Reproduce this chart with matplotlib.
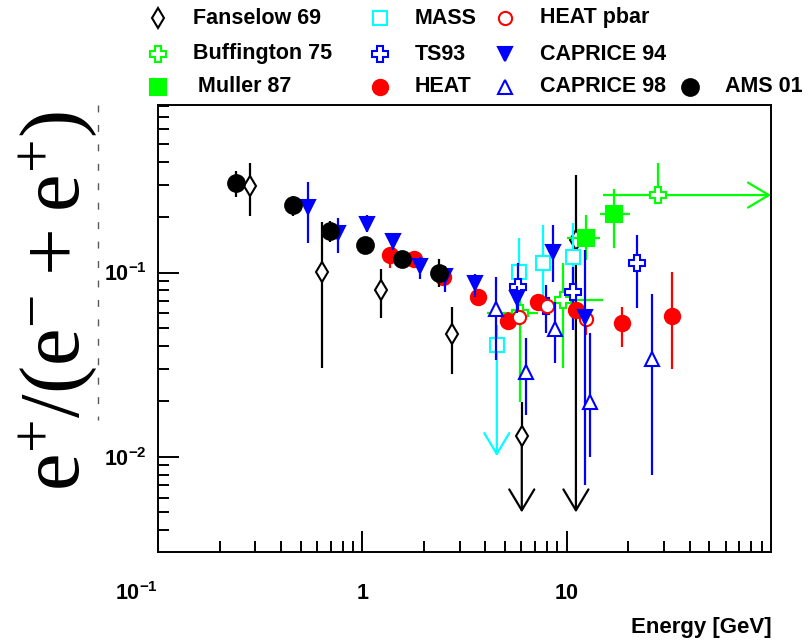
import numpy as np
import matplotlib
matplotlib.use("Agg")
import matplotlib.pyplot as plt
from matplotlib.lines import Line2D

plt.rcParams["font.family"] = ["Liberation Sans", "DejaVu Sans"]
plt.rcParams["mathtext.fontset"] = "custom"
plt.rcParams["mathtext.rm"] = "Liberation Serif"
plt.rcParams["mathtext.bf"] = "Liberation Sans:bold"

# ---------------------------------------------------------------------------
# data: energy [GeV], ratio, lower / upper error ends
# ---------------------------------------------------------------------------
fan_E = [0.282, 0.633, 1.23, 2.74, 6.03, 11.1]
fan_y = [0.295, 0.101, 0.0804, 0.0464, 0.0130, 0.151]
fan_lo = [0.202, 0.0303, 0.0565, 0.0282, 0.005, 0.005]
fan_hi = [0.391, 0.188, 0.105, 0.0647, 0.0199, 0.337]
fan_limit = [False, False, False, False, True, True]

buf_E = [5.92, 9.64, 28.1]
buf_y = [0.0605, 0.071, 0.263]
buf_lo = [0.0199, 0.0303, 0.141]
buf_hi = [0.101, 0.112, 0.391]
buf_Elo = [4.06, 8.78, 15.1]
buf_Ehi = [7.27, 15.1, 100.0]
buf_limit = [False, False, True]

mul_E = [12.4, 17.1]
mul_y = [0.153, 0.208]
mul_lo = [0.117, 0.135]
mul_hi = [0.205, 0.283]
mul_Elo = [10.0, 14.5]
mul_Ehi = [14.5, 20.4]

mass_E = [4.55, 5.87, 7.69, 10.8]
mass_y = [0.0404, 0.101, 0.112, 0.122]
mass_lo = [0.0101, 0.058, 0.07, 0.08]
mass_hi = [0.052, 0.153, 0.181, 0.185]
mass_limit = [True, False, False, False]

ts_E = [5.77, 7.93, 10.8, 22.2]
ts_y = [0.0838, 0.0658, 0.0787, 0.112]
ts_lo = [0.0531, 0.0472, 0.0488, 0.064]
ts_hi = [0.112, 0.0855, 0.107, 0.160]

heat_E = [1.37, 1.78, 2.49, 3.70, 5.19, 7.27, 11.1, 18.6, 32.7]
heat_y = [0.1245, 0.118, 0.0949, 0.0734, 0.0548, 0.0695, 0.0626, 0.0531, 0.0581]
heat_lo = [0.106, 0.108, 0.087, 0.068, 0.0487, 0.064, 0.056, 0.0396, 0.0299]
heat_hi = [0.135, 0.128, 0.104, 0.079, 0.061, 0.075, 0.069, 0.0653, 0.101]

pbar_E = [5.87, 8.05, 12.4]
pbar_y = [0.0576, 0.0658, 0.0557]
pbar_lo = [0.052, 0.060, 0.046]
pbar_hi = [0.063, 0.072, 0.062]

c94_E = [0.544, 0.763, 1.05, 1.41, 1.92, 2.54, 3.56, 5.70, 8.61, 12.3]
c94_y = [0.2275, 0.1645, 0.183, 0.149, 0.109, 0.096, 0.0874, 0.0725, 0.130, 0.0576]
c94_lo = [0.144, 0.127, 0.166, 0.132, 0.0919, 0.0786, 0.074, 0.060, 0.0892, 0.00705]
c94_hi = [0.308, 0.197, 0.205, 0.164, 0.122, 0.108, 0.098, 0.085, 0.181, 0.132]

c98_E = [4.49, 6.33, 8.78, 13.0, 26.1]
c98_y = [0.0632, 0.029, 0.0494, 0.0199, 0.0339]
c98_lo = [0.0336, 0.0169, 0.0323, 0.01005, 0.00798]
c98_hi = [0.0949, 0.0439, 0.0695, 0.047, 0.0764]

ams_E = [0.241, 0.458, 0.695, 1.03, 1.56, 2.37]
ams_y = [0.305, 0.232, 0.168, 0.141, 0.118, 0.0994]
ams_lo = [0.258, 0.202, 0.147, 0.128, 0.106, 0.0834]
ams_hi = [0.356, 0.260, 0.190, 0.156, 0.129, 0.118]

x_ticks = [0.1, 1, 10]
x_ticklabels = [r"$\mathbf{10^{-1}}$", r"$\mathbf{1}$", r"$\mathbf{10}$"]
y_ticks = [0.01, 0.1]
y_ticklabels = [r"$\mathbf{10^{-2}}$", r"$\mathbf{10^{-1}}$"]

GREEN, BLUE, RED, CYAN = "#00ff00", "#0000ff", "#ff0000", "#00ffff"

# (label, color, marker, filled, markersize)
styles = {
    "fan": ("Fanselow 69", "black", "d", False, 10),
    "buf": ("Buffington 75", GREEN, "P", False, 11),
    "mul": ("Muller 87", GREEN, "s", True, 11),
    "mass": ("MASS", CYAN, "s", False, 9.5),
    "ts": ("TS93", BLUE, "P", False, 11),
    "heat": ("HEAT", RED, "o", True, 11),
    "pbar": ("HEAT pbar", RED, "o", False, 9.5),
    "c94": ("CAPRICE 94", BLUE, "v", True, 10),
    "c98": ("CAPRICE 98", BLUE, "^", False, 10),
    "ams": ("AMS 01", "black", "o", True, 12),
}


def marker_kw(key):
    _, col, mk, filled, ms = styles[key]
    return dict(marker=mk, markersize=ms, markeredgecolor=col,
                markerfacecolor=col if filled else "white",
                markeredgewidth=1.5, color=col)


def draw_series(ax, key, E, y, lo, hi, z, Elo=None, Ehi=None, limit=None):
    E, y, lo, hi = map(np.asarray, (E, y, lo, hi))
    col = styles[key][1]
    n = len(E)
    limit = np.zeros(n, bool) if limit is None else np.asarray(limit)
    yerr = np.array([np.where(limit, 0.0, y - lo), hi - y])
    xerr = None
    if Elo is not None:
        Elo, Ehi = np.asarray(Elo), np.asarray(Ehi)
        xerr = np.array([E - Elo, np.where(limit, 0.0, Ehi - E)])
    ax.errorbar(E, y, yerr=yerr, xerr=xerr, linestyle="none", elinewidth=1.6,
                capsize=0, zorder=z, **marker_kw(key))
    # upper limits / open-ended bins drawn as arrows
    for i in np.flatnonzero(limit):
        if Elo is not None:
            start, end = (E[i], y[i]), (Ehi[i], y[i])
        else:
            start, end = (E[i], y[i]), (E[i], lo[i])
        ax.annotate("", xy=end, xytext=start, zorder=z - 0.5,
                    arrowprops=dict(arrowstyle="->,head_length=0.75,head_width=0.45",
                                    color=col, lw=1.6, mutation_scale=20,
                                    shrinkA=0, shrinkB=0))


fig = plt.figure(figsize=(8.10, 6.44), dpi=100)
ax = fig.add_axes([158 / 810, 1 - 552 / 644, (771 - 158) / 810, (552 - 105) / 644])
ax.set_xscale("log")
ax.set_yscale("log")
ax.set_xlim(0.1, 100)
ax.set_ylim(0.00305, 0.81)

draw_series(ax, "fan", fan_E, fan_y, fan_lo, fan_hi, 3, limit=fan_limit)
draw_series(ax, "buf", buf_E, buf_y, buf_lo, buf_hi, 3.2, buf_Elo, buf_Ehi, buf_limit)
draw_series(ax, "mul", mul_E, mul_y, mul_lo, mul_hi, 3.1, mul_Elo, mul_Ehi)
draw_series(ax, "mass", mass_E, mass_y, mass_lo, mass_hi, 3.3, limit=mass_limit)
draw_series(ax, "ts", ts_E, ts_y, ts_lo, ts_hi, 3.4)
draw_series(ax, "heat", heat_E, heat_y, heat_lo, heat_hi, 3.5)
draw_series(ax, "pbar", pbar_E, pbar_y, pbar_lo, pbar_hi, 3.6)
draw_series(ax, "c94", c94_E, c94_y, c94_lo, c94_hi, 3.7)
draw_series(ax, "c98", c98_E, c98_y, c98_lo, c98_hi, 3.8)
draw_series(ax, "ams", ams_E, ams_y, ams_lo, ams_hi, 3.9)

# axes look (ROOT-like: inward ticks on left / bottom only)
for sp in ax.spines.values():
    sp.set_linewidth(1.4)
ax.tick_params(which="both", direction="in", top=False, right=False, width=1.4)
ax.tick_params(which="major", length=15)
ax.tick_params(which="minor", length=8)
ax.tick_params(axis="x", which="major", pad=22)
ax.tick_params(axis="y", which="major", pad=8)
ax.set_xticks(x_ticks, labels=x_ticklabels, fontsize=15.5)
ax.set_yticks(y_ticks, labels=y_ticklabels, fontsize=15.5)
ax.xaxis.set_minor_formatter(plt.NullFormatter())
ax.yaxis.set_minor_formatter(plt.NullFormatter())
ax.get_xticklabels()[0].set_horizontalalignment("right")

fig.text(772 / 810, 1 - 627 / 644, "Energy [GeV]", ha="right", va="center",
         fontsize=16, fontweight="bold")

# leftover dashed guide behind the big y label
fig.add_artist(Line2D([98 / 810, 98 / 810], [1 - 105 / 644, 1 - 420 / 644],
                      color="0.35", lw=1, linestyle=(0, (5, 9))))
fig.text(59 / 810, 1 - 301 / 644, r"$\mathrm{e^{+}/(e^{-}+e^{+})}$",
         rotation=90, ha="center", va="center", fontsize=61)

# legend laid out as in the original (3 rows, AMS at the end of the last row)
legend_slots = [
    ("fan", 158, 193, 18), ("mass", 380, 415, 18), ("pbar", 505, 540, 18),
    ("buf", 158, 193, 54), ("ts", 380, 415, 54), ("c94", 505, 540, 54),
    ("mul", 158, 198, 87), ("heat", 380, 415, 87), ("c98", 505, 540, 87),
    ("ams", 690, 725, 87),
]
for key, mx, tx, ty in legend_slots:
    fig.add_artist(Line2D([mx / 810], [1 - ty / 644], linestyle="none",
                          **marker_kw(key)))
    fig.text(tx / 810, 1 - ty / 644, styles[key][0], ha="left", va="center",
             fontsize=15.5, fontweight="bold")

fig.savefig("out.png", dpi=100)
